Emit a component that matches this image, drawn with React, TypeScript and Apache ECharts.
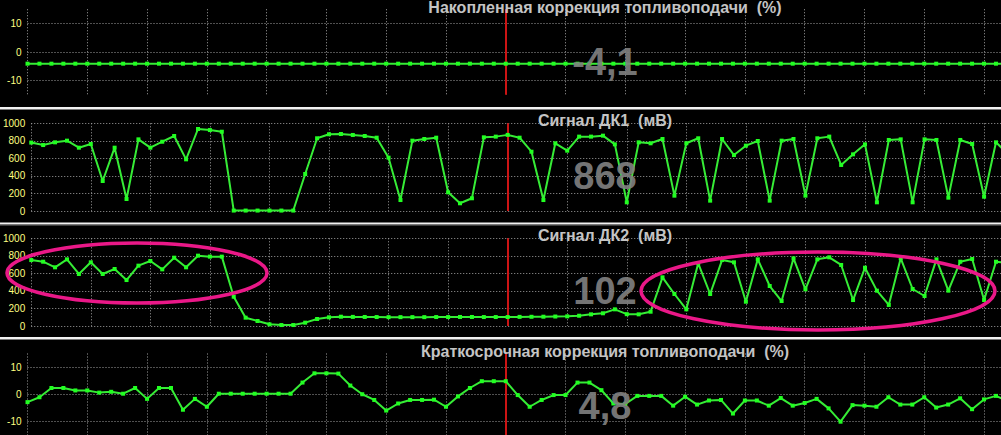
import React, { useEffect, useRef } from "react";
import * as echarts from "echarts";

// Panel titles and current values
const titles = [
  "Накопленная коррекция топливоподачи  (%)",
  "Сигнал ДК1  (мВ)",
  "Сигнал ДК2  (мВ)",
  "Краткосрочная коррекция топливоподачи  (%)",
];
const currentValues = ["-4,1", "868", "102", "4,8"];

// Series values (one sample per step)
const ltft = [
  -4.1, -4.1, -4.1, -4.1, -4.1, -4.1, -4.1, -4.1, -4.1, -4.1,
  -4.1, -4.1, -4.1, -4.1, -4.1, -4.1, -4.1, -4.1, -4.1, -4.1,
  -4.1, -4.1, -4.1, -4.1, -4.1, -4.1, -4.1, -4.1, -4.1, -4.1,
  -4.1, -4.1, -4.1, -4.1, -4.1, -4.1, -4.1, -4.1, -4.1, -4.1,
  -4.1, -4.1, -4.1, -4.1, -4.1, -4.1, -4.1, -4.1, -4.1, -4.1,
  -4.1, -4.1, -4.1, -4.1, -4.1, -4.1, -4.1, -4.1, -4.1, -4.1,
  -4.1, -4.1, -4.1, -4.1, -4.1, -4.1, -4.1, -4.1, -4.1, -4.1,
  -4.1, -4.1, -4.1, -4.1, -4.1, -4.1, -4.1, -4.1, -4.1, -4.1,
  -4.1, -4.1, -4.1,
];

const dk1 = [
  780, 752, 783, 802, 722, 764, 342, 722, 137, 817,
  722, 790, 855, 589, 935, 923, 904, 5, 5, 5,
  5, 5, 5, 422, 829, 875, 878, 867, 855, 836,
  608, 125, 802, 821, 836, 213, 88, 145, 840, 848,
  868, 836, 676, 125, 772, 688, 848, 848, 859, 760,
  99, 783, 772, 821, 175, 772, 829, 118, 821, 638,
  745, 798, 118, 802, 821, 175, 829, 848, 525, 646,
  760, 99, 810, 817, 99, 817, 810, 152, 810, 764,
  163, 783, 650,
];

const dk2 = [
  752, 733, 669, 760, 593, 726, 593, 650, 524, 688,
  741, 646, 779, 669, 802, 791, 791, 334, 95, 57,
  19, 11, 11, 38, 80, 99, 106, 104, 103, 102,
  101, 101, 101, 101, 102, 102, 103, 103, 102, 102,
  102, 104, 105, 106, 108, 110, 117, 133, 145, 190,
  135, 133, 163, 555, 365, 190, 715, 365, 752, 726,
  277, 760, 456, 285, 772, 418, 760, 783, 696, 296,
  665, 403, 240, 772, 422, 342, 760, 403, 733, 764,
  296, 733, 720,
];

const stft = [
  -2.9, -1.1, 2.3, 2.3, 1.4, 1.4, 0.6, 0.9, 0.2, 2.3,
  -1.7, 2.3, 2.3, -5.7, -1.7, -4.6, 0.2, 0.2, 0.2, 0.2,
  0.2, 0.2, 0.2, 4.3, 7.7, 7.7, 7.6, 3.2, 0, -2.1,
  -6.0, -3.4, -2.1, -2.1, -2.0, -4.6, -0.8, 2.3, 4.8, 4.8,
  4.8, -0.3, -4.6, -2.1, -0.3, -0.3, 4.3, 4.3, 1.5, -3.4,
  -3.6, -0.6, -0.6, -0.6, -4.2, -0.9, -3.8, -2.3, -2.1, -7.1,
  -2.3, -2.3, -4.2, -1.4, -4.2, -3.2, -1.7, -5.2, -10.1, -4.0,
  -4.2, -4.6, -1.1, -3.8, -3.8, -1.1, -4.9, -3.8, -1.5, -5.5,
  -1.9, -0.6, -2.5,
];

const seriesValues = [ltft, dk1, dk2, stft];

// Axis settings
const pctAxis = { min: -15, max: 15, interval: 5 };
const mvAxis = { min: 0, max: 1000, interval: 200 };
const axisRanges = [pctAxis, mvAxis, mvAxis, pctAxis];
const xMax = 81.42;
const xInterval = 5;
const markerX = 40;

// Layout (pixels)
const W = 1001;
const H = 435;
const gridLeft = 27.5;
const gridTops = [9.25, 123.3, 238.3, 353.5];
const gridHeights = [85.5, 87.7, 87.7, 86.5];
const titleYs = [7, 120, 235, 351];
const valueYs = [62, 176, 291, 406];
const separatorYs = [107, 222.5, 337];
const textCenterX = 605;

const GRID_COLOR = "#a0a0a0";
const LINE_COLOR = "#36ec36";
const DOT_COLOR = "#22ff22";
const LABEL_COLOR = "#ffff80";
const MAGENTA = "#ea1888";

export default function App() {
  const ref = useRef<HTMLDivElement>(null);

  useEffect(() => {
    if (!ref.current) return;
    const chart = echarts.init(ref.current, undefined, { renderer: "svg" });

    const grids = gridTops.map((t, i) => ({
      left: gridLeft,
      right: 0,
      top: t,
      height: gridHeights[i],
      containLabel: false,
    }));

    const xAxes = gridTops.map((_, i) => ({
      type: "value",
      gridIndex: i,
      min: 0,
      max: xMax,
      interval: xInterval,
      axisLine: { show: false },
      axisTick: { show: false },
      axisLabel: { show: false },
      splitLine: {
        show: true,
        showMaxLine: false,
        lineStyle: { color: GRID_COLOR, width: 1, type: [1, 2] },
      },
    }));

    const yAxes = axisRanges.map((r, i) => {
      const isPct = r === pctAxis;
      return {
        type: "value",
        gridIndex: i,
        min: r.min,
        max: r.max,
        interval: r.interval,
        axisLine: { show: false },
        axisTick: { show: false },
        axisLabel: {
          show: true,
          color: LABEL_COLOR,
          fontSize: 10,
          fontFamily: "Liberation Sans, Arial, sans-serif",
          margin: 6,
          formatter: (v: number) =>
            isPct ? (Math.abs(v) === 10 || v === 0 ? String(v) : "") : String(v),
        },
        splitLine: {
          show: true,
          lineStyle: {
            color: isPct ? ["rgba(0,0,0,0)", GRID_COLOR] : GRID_COLOR,
            width: 1,
            type: [1, 2],
          },
        },
      };
    });

    const series = seriesValues.map((vals, i) => ({
      type: "line",
      xAxisIndex: i,
      yAxisIndex: i,
      data: vals.map((v, k) => [k, v]),
      symbol: "rect",
      symbolSize: 4,
      showSymbol: true,
      lineStyle: { color: LINE_COLOR, width: 2 },
      itemStyle: { color: DOT_COLOR },
      z: 3,
      markLine: {
        silent: true,
        symbol: "none",
        label: { show: false },
        lineStyle: { color: "#cc1414", width: 2, type: "solid" },
        data: [{ xAxis: markerX }],
        z: 2,
      },
    }));

    const graphics: any[] = [];
    separatorYs.forEach((y) => {
      graphics.push({
        type: "rect",
        shape: { x: 0, y, width: W, height: 2 },
        style: { fill: "#f2f2f2" },
        z: 10,
      });
      graphics.push({
        type: "rect",
        shape: { x: 0, y: y + 2, width: W, height: 1 },
        style: { fill: "#7a7a7a" },
        z: 10,
      });
    });
    titles.forEach((t, i) => {
      graphics.push({
        type: "text",
        style: {
          text: t,
          x: textCenterX,
          y: titleYs[i],
          fill: "#c4c4c4",
          font: "bold 16px 'Liberation Sans', Arial, sans-serif",
          textAlign: "center",
          textVerticalAlign: "middle",
        },
        z: 20,
      });
    });
    currentValues.forEach((t, i) => {
      graphics.push({
        type: "text",
        style: {
          text: t,
          x: textCenterX,
          y: valueYs[i],
          fill: "rgba(128,128,128,0.92)",
          font: "bold 38px 'Liberation Sans', Arial, sans-serif",
          textAlign: "center",
          textVerticalAlign: "middle",
        },
        z: 20,
      });
    });
    graphics.push({
      type: "ellipse",
      shape: { cx: 137, cy: 273, rx: 130, ry: 30 },
      style: { fill: "none", stroke: MAGENTA, lineWidth: 3.5 },
      z: 30,
    });
    graphics.push({
      type: "ellipse",
      shape: { cx: 818, cy: 291, rx: 177, ry: 39 },
      style: { fill: "none", stroke: MAGENTA, lineWidth: 3.5 },
      z: 30,
    });

    chart.setOption({
      animation: false,
      backgroundColor: "#000000",
      grid: grids,
      xAxis: xAxes,
      yAxis: yAxes,
      series,
      graphic: graphics,
    } as any);

    return () => chart.dispose();
  }, []);

  return (
    <div
      ref={ref}
      style={{ position: "absolute", left: 0, top: 0, width: W, height: H, overflow: "hidden" }}
    />
  );
}
